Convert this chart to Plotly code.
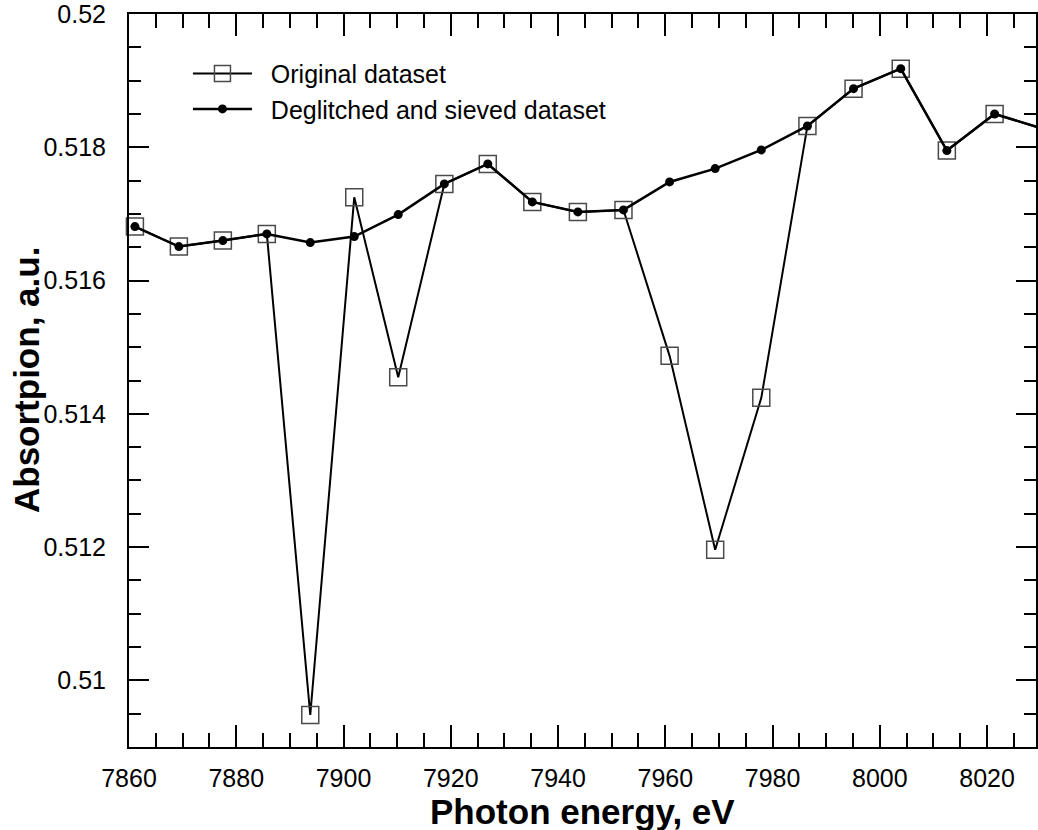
import plotly.graph_objects as go

# Photon energies of the scan points (eV)
energy = [7861.1, 7869.3, 7877.5, 7885.7, 7893.8, 7902.0, 7910.2, 7918.8,
          7926.9, 7935.2, 7943.7, 7952.2, 7960.8, 7969.3, 7977.9, 7986.5,
          7995.1, 8003.9, 8012.5, 8021.4, 8030.3]

# Raw absorption, with glitches
original = [0.51681, 0.51651, 0.51660, 0.51670, 0.50948, 0.51725, 0.51455,
            0.51745, 0.51775, 0.51718, 0.51703, 0.51706, 0.51487, 0.51196,
            0.51424, 0.51832, 0.51888, 0.51918, 0.51795, 0.51850, 0.51828]

# Absorption after deglitching and sieving
deglitched = [0.51681, 0.51651, 0.51660, 0.51670, 0.51657, 0.51666, 0.51699,
              0.51745, 0.51775, 0.51718, 0.51703, 0.51706, 0.51748, 0.51768,
              0.51796, 0.51832, 0.51888, 0.51918, 0.51795, 0.51850, 0.51828]

y_tick_vals = [0.51, 0.512, 0.514, 0.516, 0.518, 0.52]
y_tick_text = ["0.51", "0.512", "0.514", "0.516", "0.518", "0.52"]
x_tick_vals = [7860, 7880, 7900, 7920, 7940, 7960, 7980, 8000, 8020]

FONT = "Arial, Liberation Sans, sans-serif"
PAD = "\u00a0\u00a0"

fig = go.Figure()
fig.add_trace(go.Scatter(
    x=energy, y=original, mode="lines+markers", name=PAD + "Original dataset",
    line=dict(color="black", width=2),
    marker=dict(symbol="square-open", size=17, color="#4a4a4a",
                line=dict(width=1.5, color="#4a4a4a")),
    cliponaxis=False,
))
fig.add_trace(go.Scatter(
    x=energy, y=deglitched, mode="lines+markers", name=PAD + "Deglitched and sieved dataset",
    line=dict(color="black", width=2.5),
    marker=dict(symbol="circle", size=9, color="black"),
    cliponaxis=False,
))

axis_common = dict(
    showline=True, linecolor="black", linewidth=2, mirror="allticks",
    ticks="inside", tickcolor="black", tickwidth=2,
    showgrid=False, zeroline=False, ticklabeloverflow="allow",
    tickfont=dict(family=FONT, size=25, color="black"),
)

fig.update_xaxes(
    range=[7860, 8029.12], tickvals=x_tick_vals, ticklen=22,
    minor=dict(dtick=5, tick0=7860, ticks="inside", ticklen=14, tickwidth=2,
               tickcolor="black", showgrid=False),
    ticklabelstandoff=8,
    **axis_common,
)
fig.update_yaxes(
    range=[0.509, 0.5200001], tickvals=y_tick_vals, ticktext=y_tick_text, ticklen=20,
    minor=dict(dtick=0.0005, tick0=0.509, ticks="inside", ticklen=12, tickwidth=2,
               tickcolor="black", showgrid=False),
    ticklabelstandoff=16,
    **axis_common,
)

fig.add_annotation(text="<b>Photon energy, eV</b>", xref="paper", yref="paper",
                   x=0.5, y=-0.088, xanchor="center", yanchor="middle",
                   showarrow=False, font=dict(family=FONT, size=35, color="black"))
fig.add_annotation(text="<b>Absortpion, a.u.</b>", xref="paper", yref="paper",
                   x=-0.113, y=0.5, xanchor="center", yanchor="middle", textangle=-90,
                   showarrow=False, font=dict(family=FONT, size=35, color="black"))

fig.update_layout(
    width=1038, height=830,
    margin=dict(l=129, r=0, t=14, b=83),
    paper_bgcolor="white", plot_bgcolor="white",
    showlegend=True,
    legend=dict(x=0.065, y=0.95, xanchor="left", yanchor="top",
                bgcolor="rgba(0,0,0,0)", itemwidth=59, tracegroupgap=0,
                font=dict(family=FONT, size=25, color="black")),
)

fig.write_html("out.html")
